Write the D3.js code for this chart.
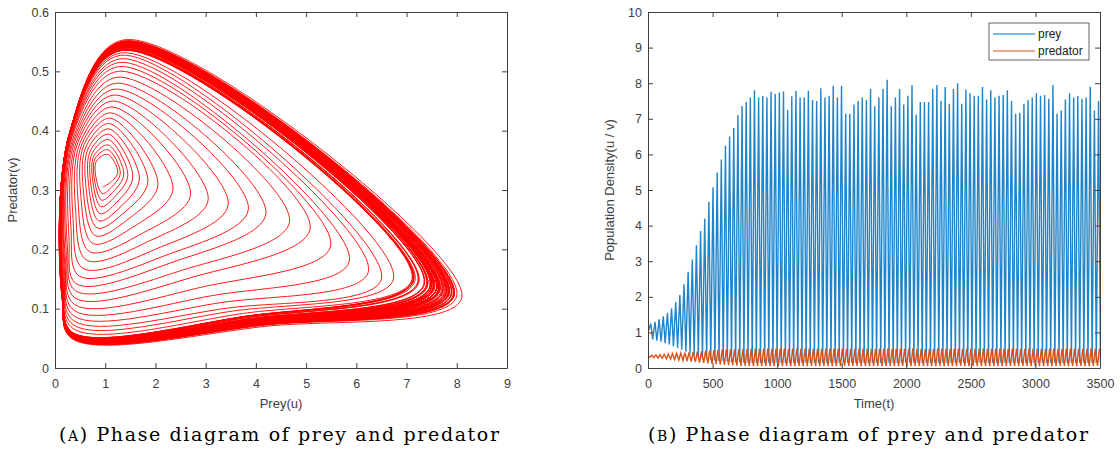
<!DOCTYPE html>
<html>
<head>
<meta charset="utf-8">
<script src="https://cdn.jsdelivr.net/npm/d3@7"></script>
<style>
body { margin: 0; background: #fff; }
svg text { font-family: "Liberation Sans", Arial, sans-serif; }
</style>
</head>
<body>
<svg id="fig" width="1120" height="464"></svg>
<script>
// prey peak of every cycle, left to right
var preyPeak = [1.25, 1.3, 1.37, 1.45, 1.55, 1.68, 1.85, 2.05, 2.35, 2.7, 3.05, 3.45, 3.85, 4.2,
  4.67, 5.08, 5.49, 5.86, 6.24, 6.5, 6.74, 7.11,
  7.36, 7.47, 7.6, 7.8, 7.6, 7.64, 7.6, 7.76, 7.7, 7.74, 7.77, 7.25, 7.63, 7.79, 7.6, 7.6, 7.79,
  7.53, 7.5, 7.86, 7.6, 7.65, 7.93, 7.6, 7.93,
  7.14, 7.14, 7.4, 7.5, 7.6, 7.53, 7.84, 7.35, 7.6, 7.84, 8.1, 7.35, 7.6, 7.84, 7.4, 7.65, 7.95,
  7.12, 7.47, 7.47, 7.47, 7.84, 7.95, 7.5, 7.89, 7.42, 7.84, 8.0, 7.42, 7.82, 7.72, 7.65, 7.65,
  7.89, 7.54, 7.8, 7.6, 7.65, 7.67, 7.8, 7.5, 7.14, 7.17, 7.42, 7.53, 7.6, 7.72, 7.65, 7.67, 7.56,
  7.95, 7.14, 7.23, 7.54, 7.72, 7.6, 7.64, 7.56, 7.6, 7.9, 7.23, 7.5];

// the growing cycles (before the limit cycle is reached)
var preyLow  = [0.8, 0.77, 0.74, 0.7, 0.66, 0.61, 0.56, 0.51, 0.46, 0.41, 0.36, 0.32, 0.28, 0.25,
  0.23, 0.21, 0.2, 0.19, 0.18, 0.17, 0.165, 0.16];
var predHigh = [0.36, 0.368, 0.376, 0.385, 0.394, 0.403, 0.412, 0.421, 0.43, 0.44, 0.45, 0.46, 0.47,
  0.48, 0.49, 0.5, 0.508, 0.515, 0.521, 0.527, 0.531, 0.535];
var predLow  = [0.305, 0.294, 0.283, 0.272, 0.26, 0.248, 0.236, 0.223, 0.21, 0.196, 0.182, 0.168,
  0.155, 0.142, 0.13, 0.118, 0.107, 0.097, 0.088, 0.08, 0.073, 0.067];
// on the limit cycle
var settledPreyLow = 0.15;
var settledPredHigh = [0.535, 0.553];   // for prey peaks 7.1 .. 8.1
var settledPredLow = [0.06, 0.05];

var firstPeak = 22, period = 32.1;

var xTicksA = [0, 1, 2, 3, 4, 5, 6, 7, 8, 9];
var yTicksA = [0, 0.1, 0.2, 0.3, 0.4, 0.5, 0.6];
var xTicksB = [0, 500, 1000, 1500, 2000, 2500, 3000, 3500];
var yTicksB = [0, 1, 2, 3, 4, 5, 6, 7, 8, 9, 10];

var axisColor = "#404040";
var svg = d3.select("#fig");

var hiV = d3.scaleLinear().domain([7.1, 8.1]).range(settledPredHigh);
var loV = d3.scaleLinear().domain([7.1, 8.1]).range(settledPredLow);

function cycleValues(i) {
  var up = preyPeak[i];
  var g = i < preyLow.length;
  return {
    uMax: up,
    uMin: g ? preyLow[i] : settledPreyLow,
    vMax: g ? predHigh[i] : hiV(up),
    vMin: g ? predLow[i] : loV(up)
  };
}

// where the other species sits at each turning point, by cycle size
var tipV = d3.scaleLinear().domain([1.25, 3, 4.2, 5.08, 5.86, 6.5, 7.1, 8.1])
  .range([0.33, 0.285, 0.26, 0.235, 0.18, 0.15, 0.15, 0.118]);
var topU = d3.scaleLinear().domain([1.25, 4.2, 8.1]).range([1.05, 1.22, 1.36]);
var leftV = d3.scaleLinear().domain([1.25, 4.2, 8.1]).range([0.33, 0.2, 0.11]);
var cornerU = d3.scaleLinear().domain([1.25, 4.2, 8.1]).range([0.95, 0.42, 0.33]);

function drawAxes(x, y, xt, yt, left, right, top, bottom) {
  svg.append("g").attr("transform", "translate(0," + bottom + ")")
    .call(d3.axisBottom(x).tickValues(xt).tickSize(-5).tickSizeOuter(0).tickPadding(11).tickFormat(String));
  svg.append("g").attr("transform", "translate(0," + top + ")")
    .call(d3.axisTop(x).tickValues(xt).tickSize(-5).tickSizeOuter(0).tickFormat(""));
  svg.append("g").attr("transform", "translate(" + left + ",0)")
    .call(d3.axisLeft(y).tickValues(yt).tickSize(-5).tickSizeOuter(0).tickPadding(6).tickFormat(String));
  svg.append("g").attr("transform", "translate(" + right + ",0)")
    .call(d3.axisRight(y).tickValues(yt).tickSize(-5).tickSizeOuter(0).tickFormat(""));
}

// ---------- panel A: phase plane ----------
var xA = d3.scaleLinear().domain([0, 9]).range([55, 507]);
var yA = d3.scaleLinear().domain([0, 0.6]).range([368, 12]);

svg.append("clipPath").attr("id", "clipA").append("rect")
  .attr("x", 55).attr("y", 12).attr("width", 452).attr("height", 356);

var phase = [];
preyPeak.forEach(function(up, i) {
  var c = cycleValues(i);
  var uT = topU(up), vL = leftV(up), uB = cornerU(up), vR = tipV(up);
  phase.push([uB, c.vMin]);
  phase.push([uB + 0.5 * (up - uB), c.vMin + 0.3 * (vR - c.vMin)]);
  phase.push([up, vR]);
  phase.push([uT, c.vMax]);
  phase.push([c.uMin + 0.12 * (uT - c.uMin), vL + 0.65 * (c.vMax - vL)]);
  phase.push([c.uMin, vL]);
});

svg.append("path")
  .attr("clip-path", "url(#clipA)")
  .attr("d", d3.line().x(function(d) { return xA(d[0]); }).y(function(d) { return yA(d[1]); })
    .curve(d3.curveCatmullRom.alpha(0.5))(phase))
  .attr("fill", "none")
  .attr("stroke", "#ff0000")
  .attr("stroke-width", 0.9);

drawAxes(xA, yA, xTicksA, yTicksA, 55, 507, 12, 368);

svg.append("text").attr("x", 281).attr("y", 408).attr("text-anchor", "middle")
  .attr("font-size", 13).attr("fill", axisColor).text("Prey(u)");
svg.append("text").attr("transform", "translate(17,190) rotate(-90)").attr("text-anchor", "middle")
  .attr("font-size", 13).attr("fill", axisColor).text("Predator(v)");

// ---------- panel B: time series ----------
var xB = d3.scaleLinear().domain([0, 3500]).range([648, 1100]);
var yB = d3.scaleLinear().domain([0, 10]).range([368, 12]);

svg.append("clipPath").attr("id", "clipB").append("rect")
  .attr("x", 648).attr("y", 12).attr("width", 452).attr("height", 356);

var preySeries = [[0, 1.0]], predSeries = [[0, 0.33]];
preyPeak.forEach(function(up, i) {
  var c = cycleValues(i);
  var tp = firstPeak + i * period;
  preySeries.push([tp, c.uMax]);
  preySeries.push([tp + 0.45 * period, c.uMin]);
  predSeries.push([tp - 0.25 * period, c.vMin]);
  predSeries.push([tp + 0.2 * period, c.vMax]);
});

var lineB = d3.line().x(function(d) { return xB(d[0]); }).y(function(d) { return yB(d[1]); });

svg.append("path").attr("clip-path", "url(#clipB)")
  .attr("d", lineB(preySeries))
  .attr("fill", "none").attr("stroke", "#1f84c9").attr("stroke-width", 1.4);
svg.append("path").attr("clip-path", "url(#clipB)")
  .attr("d", lineB(predSeries))
  .attr("fill", "none").attr("stroke", "#D95319").attr("stroke-width", 1.4);

drawAxes(xB, yB, xTicksB, yTicksB, 648, 1100, 12, 368);

svg.append("text").attr("x", 874).attr("y", 408).attr("text-anchor", "middle")
  .attr("font-size", 13).attr("fill", axisColor).text("Time(t)");
svg.append("text").attr("transform", "translate(614,190) rotate(-90)").attr("text-anchor", "middle")
  .attr("font-size", 13).attr("fill", axisColor).text("Population Density(u / v)");

// legend
var legend = svg.append("g").attr("transform", "translate(989,23)");
legend.append("rect").attr("width", 100).attr("height", 37)
  .attr("fill", "#fff").attr("stroke", axisColor).attr("stroke-width", 0.8);
[["prey", "#0072BD"], ["predator", "#D95319"]].forEach(function(d, i) {
  legend.append("line").attr("x1", 4).attr("x2", 46).attr("y1", 11 + i * 17).attr("y2", 11 + i * 17)
    .attr("stroke", d[1]).attr("stroke-width", 1);
  legend.append("text").attr("x", 49).attr("y", 15 + i * 17).attr("font-size", 12)
    .attr("fill", "#222").text(d[0]);
});

svg.selectAll(".domain, .tick line").attr("stroke", axisColor);
svg.selectAll(".tick text").attr("fill", axisColor).attr("font-size", 12.5)
  .attr("font-family", "Liberation Sans, Arial, sans-serif");

// captions
[["A", 279], ["B", 868]].forEach(function(c) {
  var t = svg.append("text").attr("x", c[1]).attr("y", 441).attr("text-anchor", "middle")
    .attr("font-size", 19).attr("fill", "#000")
    .attr("textLength", 440).attr("lengthAdjust", "spacing")
    .style("font-family", "'DejaVu Serif', 'Liberation Serif', serif");
  t.append("tspan").text("(");
  t.append("tspan").attr("font-size", 14).text(c[0]);
  t.append("tspan").text(")  Phase diagram of prey and predator");
});
</script>
</body>
</html>
